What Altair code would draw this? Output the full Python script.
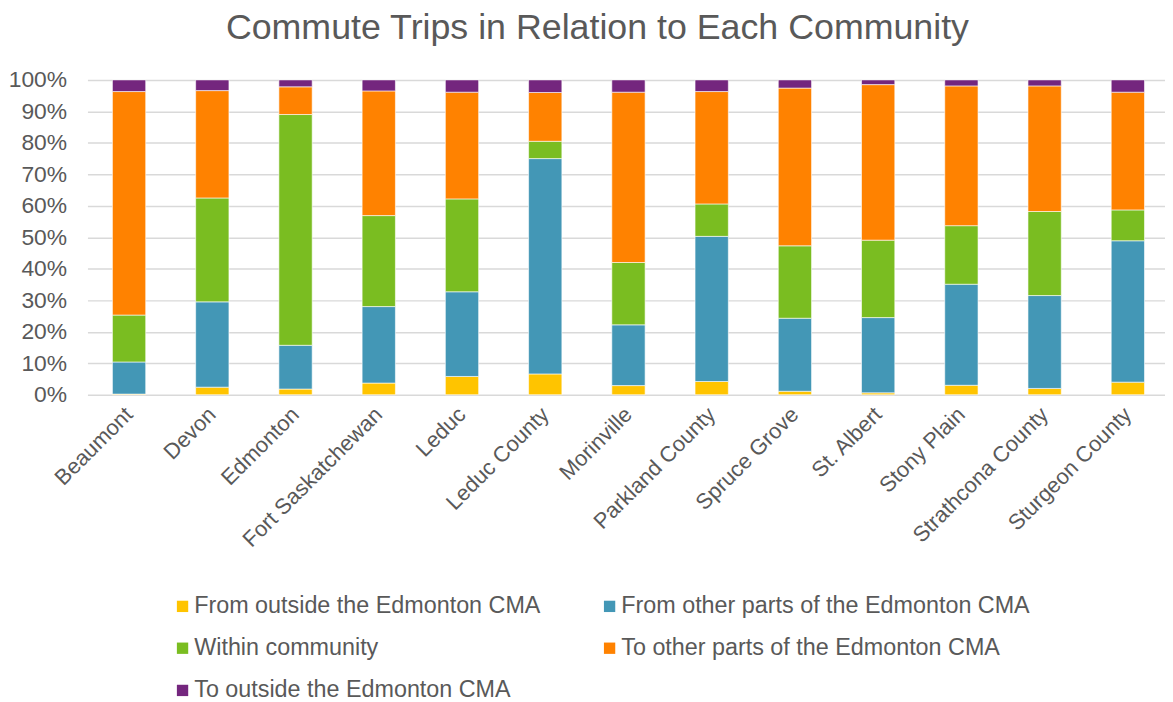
import altair as alt
import pandas as pd

communities = ["Beaumont", "Devon", "Edmonton", "Fort Saskatchewan", "Leduc", "Leduc County",
               "Morinville", "Parkland County", "Spruce Grove", "St. Albert", "Stony Plain",
               "Strathcona County", "Sturgeon County"]
categories = ["From outside the Edmonton CMA", "From other parts of the Edmonton CMA",
              "Within community", "To other parts of the Edmonton CMA", "To outside the Edmonton CMA"]
from_outside = [0.2, 2.4, 1.8, 3.7, 5.8, 6.6, 2.9, 4.2, 1.1, 0.6, 3.0, 2.0, 4.0]
from_other = [10.2, 27.1, 13.9, 24.3, 26.9, 68.4, 19.3, 46.1, 23.2, 23.9, 32.1, 29.5, 44.9]
within = [14.9, 33.0, 73.3, 28.9, 29.5, 5.5, 19.8, 10.3, 23.0, 24.6, 18.6, 26.7, 9.8]
to_other = [71.0, 34.1, 8.8, 39.6, 33.9, 15.5, 54.1, 35.7, 50.1, 49.4, 44.4, 39.9, 37.4]
to_outside = [3.7, 3.4, 2.2, 3.5, 3.9, 4.0, 3.9, 3.7, 2.6, 1.5, 1.9, 1.9, 3.9]
colors = ["#FFC400", "#4397B6", "#7ABD21", "#FF8200", "#74267E"]

series = [from_outside, from_other, within, to_other, to_outside]
rows = []
for k, (cat, vals) in enumerate(zip(categories, series)):
    for c, v in zip(communities, vals):
        rows.append({"community": c, "category": cat, "value": v, "order": k})
df = pd.DataFrame(rows)

# legend is laid out column by column; reorder so it reads row by row like the reference
legend_order = [0, 2, 4, 1, 3]
legend_domain = [categories[i] for i in legend_order]
legend_range = [colors[i] for i in legend_order]

txt = "#595959"
font = "Liberation Sans"

chart = alt.Chart(df).mark_bar(stroke="white", strokeWidth=0.6).encode(
    x=alt.X("community:N", sort=communities, title=None,
            scale=alt.Scale(range=[0, 1089.5], paddingInner=0.6, paddingOuter=0.3),
            axis=alt.Axis(labelAngle=-45, labelAlign="right", labelBaseline="middle",
                          labelFontSize=22, labelColor=txt, labelFont=font, ticks=False,
                          domain=False, labelPadding=16, grid=False, labelLimit=400)),
    y=alt.Y("value:Q", stack=True, title=None,
            scale=alt.Scale(domain=[0, 100], nice=False),
            axis=alt.Axis(values=list(range(0, 101, 10)), labelExpr="datum.value + '%'",
                          labelFontSize=23, labelColor=txt, labelFont=font, ticks=False,
                          domain=False, labelPadding=21, gridColor="#D9D9D9", gridWidth=1.5)),
    color=alt.Color("category:N",
                    scale=alt.Scale(domain=legend_domain, range=legend_range),
                    legend=alt.Legend(title=None, orient="none", legendX=84, legendY=518,
                                      columns=2, columnPadding=57, rowPadding=17.5,
                                      symbolType="square", symbolSize=130, symbolStrokeWidth=0,
                                      labelFontSize=23.5, labelColor=txt, labelFont=font,
                                      labelLimit=600, labelOffset=0)),
    order=alt.Order("order:Q", sort="ascending"),
).properties(
    width=1077, height=317,
    autosize=alt.AutoSizeParams(type="none"),
    padding={"left": 80, "top": 70, "right": 8, "bottom": 306},
    title=alt.TitleParams("Commute Trips in Relation to Each Community", fontSize=36,
                          font=font, color=txt, fontWeight="normal", offset=22,
                          anchor="middle", dx=-25),
).configure_view(stroke=None)

chart.save("out.html", embed_options={"renderer": "svg", "actions": False})
